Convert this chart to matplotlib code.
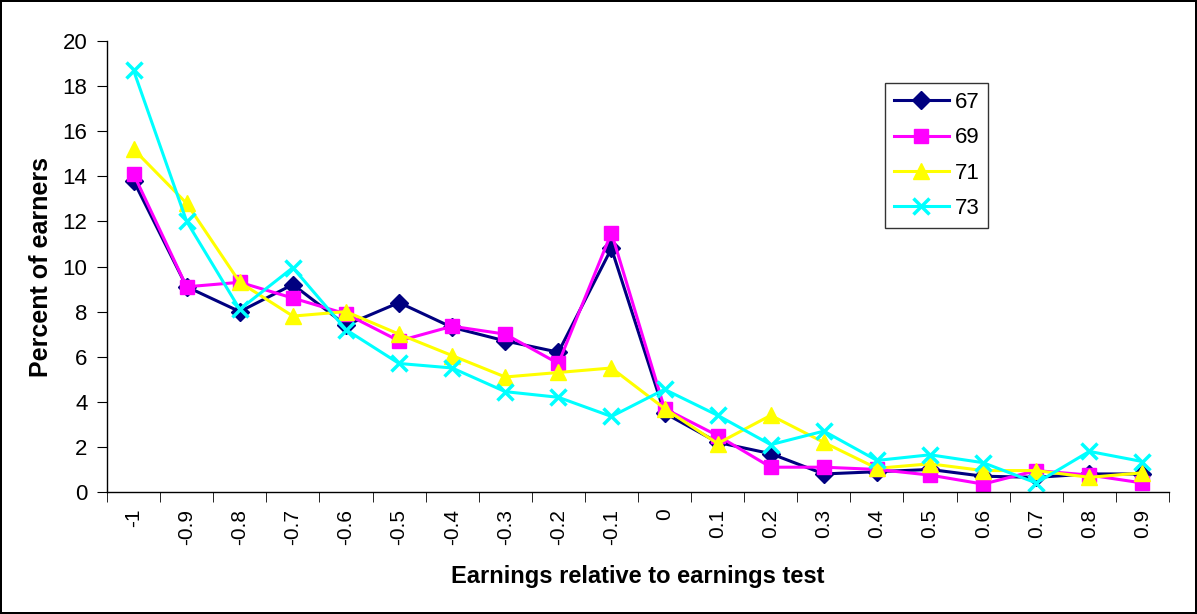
import numpy as np
import matplotlib.pyplot as plt
from matplotlib.ticker import FixedLocator

plt.rcParams['font.family'] = ['Liberation Sans', 'DejaVu Sans']

# earnings relative to the earnings test, one bin per category
bins = ["-1", "-0.9", "-0.8", "-0.7", "-0.6", "-0.5", "-0.4", "-0.3", "-0.2", "-0.1",
        "0", "0.1", "0.2", "0.3", "0.4", "0.5", "0.6", "0.7", "0.8", "0.9"]

# percent of earners in each bin, by age
age67 = [13.8, 9.1, 8.0, 9.2, 7.4, 8.4, 7.3, 6.7, 6.2, 10.8,
         3.5, 2.2, 1.7, 0.8, 0.9, 1.0, 0.7, 0.65, 0.8, 0.8]
age69 = [14.1, 9.1, 9.3, 8.6, 7.9, 6.7, 7.35, 7.0, 5.7, 11.5,
         3.7, 2.5, 1.1, 1.1, 1.0, 0.75, 0.35, 0.95, 0.75, 0.4]
age71 = [15.2, 12.8, 9.3, 7.8, 8.0, 7.0, 6.05, 5.1, 5.3, 5.5,
         3.7, 2.15, 3.4, 2.2, 1.05, 1.25, 0.95, 0.95, 0.65, 0.85]
age73 = [18.7, 12.0, 8.1, 9.95, 7.2, 5.7, 5.5, 4.45, 4.2, 3.35,
         4.55, 3.4, 2.1, 2.7, 1.4, 1.65, 1.3, 0.4, 1.8, 1.35]

series = [("67", age67, "#000080", "D", 9),
          ("69", age69, "#FF00FF", "s", 10.5),
          ("71", age71, "#FFFF00", "^", 12),
          ("73", age73, "#00FFFF", "x", 11)]

fig = plt.figure(figsize=(11.97, 6.14), dpi=100)
fig.patch.set_edgecolor("black")
fig.patch.set_linewidth(1.5)
ax = fig.add_axes([0.0894, 0.1987, 0.8872, 0.7345])

x = np.arange(len(bins))
for name, vals, col, mk, ms in series:
    ax.plot(x, vals, color=col, marker=mk, markersize=ms, linewidth=2.2,
            markeredgewidth=2.5 if mk == "x" else 1, label=name)

ax.set_xlim(-0.5, len(bins) - 0.5)
ax.set_ylim(0, 20)
ax.set_yticks(np.arange(0, 21, 2))
ax.set_xticks(x)
ax.set_xticklabels(bins, rotation=90)
ax.xaxis.set_minor_locator(FixedLocator(np.arange(-0.5, len(bins), 1)))
ax.tick_params(axis="x", which="major", length=0, pad=12, labelsize=15)
ax.tick_params(axis="x", which="minor", length=7, direction="out")
ax.tick_params(axis="y", length=7, direction="out", labelsize=16, pad=7)

ax.spines["top"].set_visible(False)
ax.spines["right"].set_visible(False)
for s in ("left", "bottom"):
    ax.spines[s].set_linewidth(1)

ax.set_xlabel("Earnings relative to earnings test", fontsize=17, fontweight="bold", labelpad=15)
ax.set_ylabel("Percent of earners", fontsize=18, fontweight="bold", labelpad=7)

leg = ax.legend(loc="upper left", bbox_to_anchor=(885 / 1197, 1 - 83 / 614),
                bbox_transform=fig.transFigure, fontsize=16, frameon=True,
                fancybox=False, borderpad=0.4, labelspacing=0.65,
                handlelength=2.48, handletextpad=0.25, borderaxespad=0)
leg.get_frame().set_edgecolor("black")
leg.get_frame().set_linewidth(1)

fig.savefig("out.png", dpi=100)
